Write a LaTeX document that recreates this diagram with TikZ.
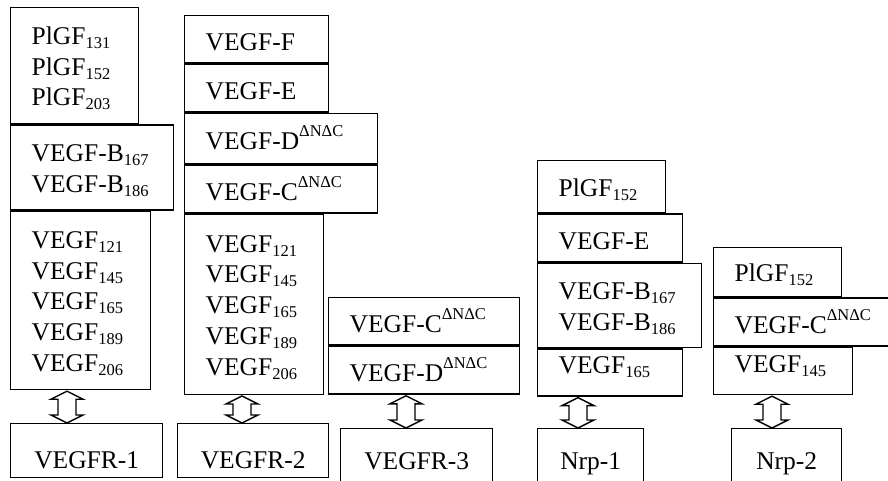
\documentclass[tikz,border=0pt]{standalone}
\usepackage{fontspec}
\setmainfont{Liberation Serif}
\usepackage{tikz}
\usetikzlibrary{calc}
\exhyphenpenalty=10000
\newcommand{\bigfont}{\fontsize{25.5pt}{30.8pt}\selectfont}
\newcommand{\isof}[1]{\raisebox{-4pt}{\fontsize{16.5pt}{16.5pt}\selectfont #1}}
\newcommand{\dNdC}{\raisebox{13pt}{\fontsize{16.5pt}{16.5pt}\selectfont ΔNΔC}}
%hollow double arrow between two tips (upper, lower)
\newcommand{\twoway}[2]{%
    \draw[pipe] (#1) -- ++(-16,8) -- ++(7,0) -- ($(#2)+(-9,-8)$) -- ++(-7,0) -- (#2)
        -- ++(16,-8) -- ++(-7,0) -- ($(#1)+(9,8)$) -- ++(7,0) -- cycle;%
}
\tikzset{
  lig/.style 2 args={draw, line width=1.4pt, anchor=north west, inner xsep=21pt, inner ysep=0pt,
    text width={#1-42pt}, minimum height=#2, text height=23pt, align=left, font=\bigfont},
  rec/.style 2 args={draw, line width=1.4pt, anchor=north west, inner sep=0pt,
    minimum width=#1, minimum height=#2, text height=36pt, text depth=0pt, font=\bigfont},
  pipe/.style={line width=1.4pt, line join=miter}
}

\begin{document}
\begin{tikzpicture}[x=1pt,y=-1pt]
\useasboundingbox (0,0) rectangle (888,480);

%VEGFR-1
\node[lig={128pt}{116pt}] (c1a) at (10,7) {PlGF\isof{131}\\PlGF\isof{152}\\PlGF\isof{203}};
\node[lig={163pt}{85pt}] (c1b) at (c1a.south west) {VEGF-B\isof{167}\\VEGF-B\isof{186}};
\node[lig={140pt}{178pt}] (c1c) at (c1b.south west) {VEGF\isof{121}\\VEGF\isof{145}\\VEGF\isof{165}\\VEGF\isof{189}\\VEGF\isof{206}};
\node[rec={152pt}{54pt}] (r1) at (10,423) {VEGFR-1};

%VEGFR-2
\node[lig={144pt}{47pt}] (c2a) at (184,15) {VEGF-F};
\node[lig={144pt}{48pt}] (c2b) at (c2a.south west) {VEGF-E};
\node[lig={193pt}{50pt}] (c2c) at (c2b.south west) {VEGF-D\dNdC};
\node[lig={193pt}{48pt}] (c2d) at (c2c.south west) {VEGF-C\dNdC};
\node[lig={139pt}{180pt}] (c2e) at (c2d.south west) {VEGF\isof{121}\\VEGF\isof{145}\\VEGF\isof{165}\\VEGF\isof{189}\\VEGF\isof{206}};
\node[rec={151pt}{54pt}] (r2) at (177,423) {VEGFR-2};

%VEGFR-3
\node[lig={191pt}{47pt}] (c3a) at (328,297) {VEGF-C\dNdC};
\node[lig={191pt}{48pt}] (c3b) at (c3a.south west) {VEGF-D\dNdC};
\node[rec={152pt}{56pt}, text height=26pt] (r3) at (340,428) {VEGFR-3};

%Nrp-1
\node[lig={128pt}{52pt}] (c4a) at (537,160) {PlGF\isof{152}};
\node[lig={145pt}{48pt}] (c4b) at (c4a.south west) {VEGF-E};
\node[lig={164pt}{84pt}] (c4c) at (c4b.south west) {VEGF-B\isof{167}\\VEGF-B\isof{186}};
\node[lig={145pt}{47pt}, text depth=20pt] (c4d) at (c4c.south west) {VEGF\isof{165}};
\node[rec={106pt}{56pt}, text height=26pt] (r4) at (537,428) {Nrp-1};

%Nrp-2
\node[lig={128pt}{49pt}] (c5a) at (713,247) {PlGF\isof{152}};
\node[lig={179pt}{48pt}] (c5b) at (c5a.south west) {VEGF-C\dNdC};
\node[lig={139pt}{47pt}, text depth=20pt] (c5c) at (c5b.south west) {VEGF\isof{145}};
\node[rec={110pt}{56pt}, text height=26pt] (r5) at (731,428) {Nrp-2};

%binding arrows
\foreach \lig/\rec/\dx in {c1c/r1/57, c2e/r2/58, c3b/r3/78, c4d/r4/41, c5c/r5/59}{
    \coordinate (t\rec) at ($(\lig.south west)+(\dx,1)$);
    \coordinate (b\rec) at (t\rec |- \rec.north);
    \twoway{t\rec}{b\rec}
}

\end{tikzpicture}
\end{document}
